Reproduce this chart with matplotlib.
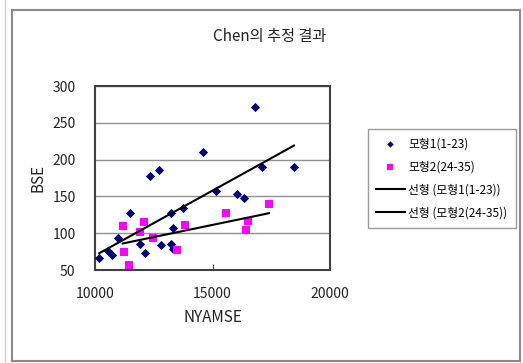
import numpy as np
import matplotlib
matplotlib.use("Agg")
import matplotlib.pyplot as plt
from matplotlib.patches import Rectangle

plt.rcParams['font.family'] = ['Noto Sans CJK KR', 'DejaVu Sans']

# Series 1 (model 1, obs 1-23)
x1 = [10183, 10566, 10711, 10993, 11489, 11915, 12128, 12340, 12738, 12809, 13234,
      13305, 13234, 13305, 13759, 14610, 15149, 16028, 16340, 16809, 17092, 18468]
y1 = [66, 76, 70, 94, 127, 86, 73, 178, 186, 84, 127,
      107, 86, 78, 134, 211, 158, 153, 148, 272, 190, 190]
# Series 2 (model 2, obs 24-35)
x2 = [11177, 11234, 11461, 11915, 12099, 12482, 13504, 13830, 15574, 16426, 16511, 17404]
y2 = [110, 75, 57, 101, 115, 93, 77, 111, 128, 105, 116, 139]

title = "Chen의 추정 결과"
xlabel = "NYAMSE"
ylabel = "BSE"
labels = ["모형1(1-23)", "모형2(24-35)", "선형 (모형1(1-23))", "선형 (모형2(24-35))"]
xticks = [10000, 15000, 20000]
yticks = [50, 100, 150, 200, 250, 300]

W, H = 523, 363
fig = plt.figure(figsize=(W / 100, H / 100), dpi=100)
fig.patch.set_facecolor('white')

# chart-area frame
fig.add_artist(Rectangle((12 / W, 1 - 361 / H), (520 - 12) / W, (361 - 10) / H,
                         transform=fig.transFigure, fill=False, edgecolor='#8a8a8a', lw=1.5))
fig.add_artist(plt.Line2D([4.5 / W, 4.5 / W], [0, 1], transform=fig.transFigure,
                          color='#d0d0d0', lw=1))

ax = fig.add_axes([95 / W, 1 - 270 / H, (330 - 95) / W, (270 - 86) / H])
ax.set_xlim(10000, 20000)
ax.set_ylim(50, 300)
ax.set_xticks(xticks)
ax.set_yticks(yticks)
ax.set_xticklabels([str(t) for t in xticks], fontsize=10, color='#222222')
ax.set_yticklabels([str(t) for t in yticks], fontsize=10, color='#222222')
ax.tick_params(axis='x', direction='in', length=4, color='#404040', pad=12)
ax.tick_params(axis='y', length=0, pad=14)
for s in ax.spines.values():
    s.set_color('#404040')
    s.set_linewidth(1.5)
ax.grid(axis='y', color='#909090', lw=1)
ax.set_axisbelow(True)

ax.scatter(x1, y1, marker='D', s=22, color='#000080', zorder=3, label=labels[0], linewidths=0)
ax.scatter(x2, y2, marker='s', s=36, color='#FF00FF', zorder=3, label=labels[1], linewidths=0)

for xs, ys, lab in [(x1, y1, labels[2]), (x2, y2, labels[3])]:
    xs = np.array(xs, float)
    ys = np.array(ys, float)
    b, a = np.polyfit(xs, ys, 1)
    xx = np.array([xs.min(), xs.max()])
    ax.plot(xx, a + b * xx, color='black', lw=1.5, zorder=4, label=lab)

ax.set_xlabel(xlabel, fontsize=11, labelpad=6, color='#222222')
ax.set_ylabel(ylabel, fontsize=11, labelpad=4, color='#222222')

fig.text(270 / W, 1 - 36 / H, title, ha='center', va='center', fontsize=11, color='#222222')

h, l = ax.get_legend_handles_labels()
leg = fig.legend(h, l, loc='upper left', bbox_to_anchor=(368 / W, 1 - 129 / H),
                 fontsize=8.5, frameon=True, fancybox=False, edgecolor='#808080',
                 handlelength=2.4, borderpad=0.7, labelspacing=0.85, handletextpad=0.3,
                 borderaxespad=0, scatterpoints=1, markerscale=0.7)
leg.get_frame().set_linewidth(1)

fig.savefig("out.png", dpi=100, facecolor='white')
